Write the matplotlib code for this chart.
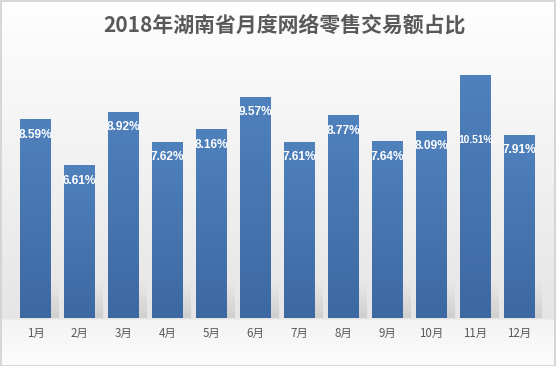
import numpy as np
import matplotlib
matplotlib.use("Agg")
import matplotlib.pyplot as plt
from matplotlib.patches import Rectangle

plt.rcParams['font.family'] = ['Noto Sans CJK SC', 'DejaVu Sans']

# data
months = ['1月', '2月', '3月', '4月', '5月', '6月',
          '7月', '8月', '9月', '10月', '11月', '12月']
share = [8.59, 6.61, 8.92, 7.62, 8.16, 9.57,
         7.61, 8.77, 7.64, 8.09, 10.51, 7.91]
title = '2018年湖南省月度网络零售交易额占比'

W, H = 556, 366
fig = plt.figure(figsize=(W / 100, H / 100), dpi=100)

# background: light vertical gradient with a lighter band under the bars
bg = fig.add_axes([0, 0, 1, 1])
bg.set_axis_off()
rows = np.arange(H)
shade = np.interp(rows, [0, 40, 318, 320, 366], [1.0, 0.985, 0.90, 0.955, 0.99])
bg.imshow(np.repeat(shade[:, None, None], 3, axis=2), aspect='auto',
          extent=[0, 1, 0, 1], interpolation='bilinear')
bg.set_xlim(0, 1); bg.set_ylim(0, 1)
fig.patches.append(Rectangle((0.5 / W, 0.5 / H), 1 - 1.5 / W, 1 - 1.5 / H,
                             transform=fig.transFigure, fill=False,
                             edgecolor='#d0d0d0', lw=1.2))

ax = fig.add_axes([13.5 / W, 48 / H, 528 / W, 277.3 / H])
ax.patch.set_alpha(0)
x = np.arange(len(months))

bars = ax.bar(x, share, width=0.7, color='#4a7dba', zorder=3)

# vertical gradient on each bar
grad = np.linspace(0, 1, 64)[:, None]
top_c = np.array([0x4f, 0x81, 0xbd]) / 255
bot_c = np.array([0x3d, 0x69, 0xa2]) / 255
bar_img = (top_c * (1 - grad[..., None]) + bot_c * grad[..., None])
for b in bars:
    x0, w, h = b.get_x(), b.get_width(), b.get_height()
    im = ax.imshow(bar_img, aspect='auto', extent=[x0, x0 + w, 0, h],
                   zorder=3.5, interpolation='bilinear')
    im.set_clip_path(b)

    # soft shadow strip to the right of each bar
    sh = np.zeros((64, 1, 4))
    sh[..., :3] = 0.55
    sh[:, 0, 3] = np.linspace(0.0, 0.35, 64) ** 1.3
    ax.imshow(sh, aspect='auto', extent=[x0 + w, x0 + w + 0.17, 0, 1.75],
              zorder=2, interpolation='bilinear')

ax.set_xlim(-0.5, len(months) - 0.5)
ax.set_ylim(0, 12)

# value labels inside the bar tops
top = max(share)
for xi, v in zip(x, share):
    txt = f'{v:.2f}%'
    dy = -47 if v == top else -11
    ax.annotate(txt, (xi, v), xytext=(0, dy), textcoords='offset points',
                ha='center', va='center', color='white', weight='bold',
                fontsize=7.4 if len(txt) > 5 else 8.6,
                family=['Liberation Sans', 'DejaVu Sans'], zorder=5)

ax.set_xticks(x)
ax.set_xticklabels(months, fontsize=8.3, color='#595959')
ax.tick_params(axis='x', length=0, pad=6.5)
ax.set_yticks([])
for s in ax.spines.values():
    s.set_visible(False)

fig.text(284.5 / W, 1 - 25 / H, title, ha='center', va='center',
         fontsize=15, weight='bold', color='#595959')

fig.savefig('out.png', dpi=100)
